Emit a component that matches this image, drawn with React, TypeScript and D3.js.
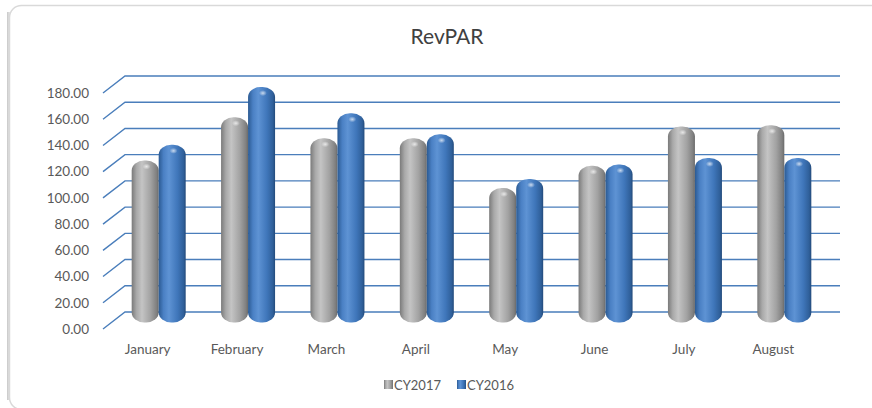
import { useEffect } from 'react';
import * as d3 from 'd3';

const months = ['January', 'February', 'March', 'April', 'May', 'June', 'July', 'August'];
const cy2017 = [122, 155, 139, 139, 101, 118, 148, 149];
const cy2016 = [134, 178, 158, 142, 108, 119, 124, 124];
const seriesNames = ['CY2017', 'CY2016'];
const yTicks = [0, 20, 40, 60, 80, 100, 120, 140, 160, 180];

const W = 872;
const H = 408;
const FRONT = { left: 103, right: 818, bottom: 329, top: 93 };
// depth offset of the back wall, bars sit half way in
const DEPTH = { dx: 22, dy: -17 };
const FONT = 'Lato, "Open Sans", sans-serif';

export default function App() {
  useEffect(() => {
    document.body.style.margin = '0';
  }, []);

  const x = d3.scaleBand<string>().domain(months).range([FRONT.left, FRONT.right]);
  const inner = d3.scaleBand<string>().domain(seriesNames).range([0, 54]).paddingInner(0);
  const y = d3.scaleLinear().domain([0, 180]).range([FRONT.bottom, FRONT.top]);

  const barDx = DEPTH.dx / 2;
  const barDy = DEPTH.dy / 2;
  const bw = inner.bandwidth();

  const rows = months.map((m, i) => ({ m, vals: [cy2017[i], cy2016[i]] }));

  return (
    <svg width={W} height={H} style={{ display: 'block', fontFamily: FONT }}>
      <defs>
        <linearGradient id="g17" x1="0" x2="1" y1="0" y2="0">
          <stop offset="0" stopColor="#7a7a7a" />
          <stop offset="0.18" stopColor="#a9a9a9" />
          <stop offset="0.38" stopColor="#c4c4c4" />
          <stop offset="0.7" stopColor="#a2a2a2" />
          <stop offset="0.92" stopColor="#808080" />
          <stop offset="1" stopColor="#6a6a6a" />
        </linearGradient>
        <linearGradient id="g16" x1="0" x2="1" y1="0" y2="0">
          <stop offset="0" stopColor="#2b5a92" />
          <stop offset="0.18" stopColor="#4a80c4" />
          <stop offset="0.38" stopColor="#5e93d4" />
          <stop offset="0.7" stopColor="#3f76ba" />
          <stop offset="0.92" stopColor="#2f5f99" />
          <stop offset="1" stopColor="#234a7a" />
        </linearGradient>
        <radialGradient id="glare" cx="0.5" cy="0.5" r="0.5">
          <stop offset="0" stopColor="#ffffff" stopOpacity="0.7" />
          <stop offset="1" stopColor="#ffffff" stopOpacity="0" />
        </radialGradient>
        <linearGradient id="frameShadow" x1="0" x2="1">
          <stop offset="0" stopColor="#c8c8c8" />
          <stop offset="1" stopColor="#ffffff" />
        </linearGradient>
      </defs>

      <rect x={0} y={0} width={W} height={H} fill="#ffffff" />
      <rect x={7} y={12} width={5} height={H - 20} fill="url(#frameShadow)" />
      <rect x={9.5} y={5.5} width={W + 10} height={H - 4} rx={12} fill="#ffffff" stroke="#d9d9d9" strokeWidth={1.5} />

      <text x={447} y={44} textAnchor="middle" fontSize={21} fill="#404040">RevPAR</text>

      {yTicks.map(t => (
        <g key={t}>
          <path
            d={`M${FRONT.left},${y(t)} L${FRONT.left + DEPTH.dx},${y(t) + DEPTH.dy} L${FRONT.right + DEPTH.dx},${y(t) + DEPTH.dy}`}
            fill="none" stroke="#4a7ebb" strokeWidth={1.4}
          />
          <text x={89} y={y(t)} dy="0.35em" textAnchor="end" fontSize={13.5} fill="#595959">
            {t.toFixed(2)}
          </text>
        </g>
      ))}

      {rows.map(r => (
        <g key={r.m}>
          {r.vals.map((v, j) => {
            const bx = (x(r.m) ?? 0) + (x.bandwidth() - 54) / 2 + inner(seriesNames[j])! + barDx;
            const top = y(v) + barDy;
            const bottom = y(0) + barDy + 2;
            return (
              <g key={j}>
                <rect x={bx} y={top} width={bw} height={bottom - top} rx={bw / 2 - 1} ry={10}
                  fill={j === 0 ? 'url(#g17)' : 'url(#g16)'} />
                <ellipse cx={bx + bw * 0.55} cy={top + 6} rx={4} ry={3} fill="url(#glare)" />
              </g>
            );
          })}
          <text x={(x(r.m) ?? 0) + x.bandwidth() / 2} y={349} dy="0.35em" textAnchor="middle" fontSize={13.5} fill="#595959">
            {r.m}
          </text>
        </g>
      ))}

      {seriesNames.map((s, i) => {
        const lx = 384 + i * 73;
        return (
          <g key={s}>
            <rect x={lx} y={380} width={9} height={9} fill={i === 0 ? 'url(#g17)' : 'url(#g16)'} />
            <text x={lx + 10} y={385} dy="0.35em" fontSize={13} fill="#595959">{s}</text>
          </g>
        );
      })}
    </svg>
  );
}
